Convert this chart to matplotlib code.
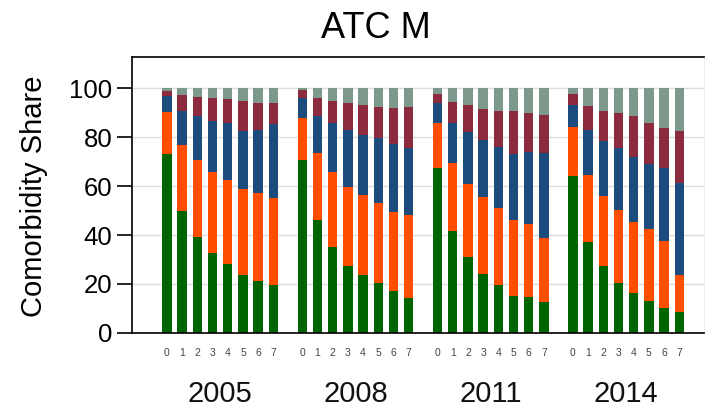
import numpy as np
import matplotlib.pyplot as plt

plt.rcParams['font.family'] = ['Liberation Sans', 'DejaVu Sans']

years = ["2005", "2008", "2011", "2014"]
levels = ["0", "1", "2", "3", "4", "5", "6", "7"]

# cumulative tops of each stack segment, per year (bars 0..7)
green = {
    "2005": [73, 50, 39, 32.5, 28, 23.7, 21.2, 19.4],
    "2008": [70.6, 46, 35.2, 27.5, 23.7, 20.3, 17.3, 14.2],
    "2011": [67.2, 41.8, 31.2, 24.1, 19.7, 15.2, 14.8, 12.8],
    "2014": [64.1, 37.3, 27.3, 20.5, 16.5, 13.2, 10.1, 8.4],
}
orange = {
    "2005": [90.3, 76.7, 70.6, 65.8, 62.4, 59, 57, 55],
    "2008": [88, 73.6, 65.8, 59.7, 56.3, 53.2, 49.5, 48.2],
    "2011": [85.8, 69.3, 60.8, 55.6, 50.9, 46.1, 44.5, 38.6],
    "2014": [84.2, 64.5, 55.9, 50.2, 45.4, 42.3, 37.7, 23.7],
}
blue = {
    "2005": [96.7, 90.7, 88.6, 86.7, 85.8, 82.6, 82.9, 85.2],
    "2008": [95.8, 88.6, 85.8, 82.9, 80.8, 79.5, 77.4, 75.4],
    "2011": [94, 85.8, 82.2, 79, 76, 73.3, 74, 73.6],
    "2014": [93.1, 82.9, 78.5, 75.4, 71.7, 69, 67.2, 61.3],
}
maroon = {
    "2005": [99, 97.1, 96.5, 95.8, 95.4, 94.8, 94, 94],
    "2008": [99.2, 95.8, 94.8, 94, 93.1, 92.4, 92.1, 92.4],
    "2011": [97.8, 94.4, 93.1, 91.7, 90.7, 90.7, 89.9, 89],
    "2014": [97.6, 92.7, 90.7, 89.9, 88.6, 85.8, 83.9, 82.6],
}
total = 100

colors = ["#006400", "#ff4e00", "#1c4c7e", "#8c2a3e", "#7c998c"]

fig = plt.figure(figsize=(7.12, 4.08), dpi=100)
ax = fig.add_axes([0.185, 0.184, 0.804, 0.676])

step = 8.9
width = 0.62
xs_all = []
for g, yr in enumerate(years):
    x = g * step + np.arange(len(levels))
    xs_all.extend(x)
    tops = [np.array(green[yr]), np.array(orange[yr]), np.array(blue[yr]),
            np.array(maroon[yr]), np.full(len(levels), total)]
    bottom = np.zeros(len(levels))
    for top, c in zip(tops, colors):
        ax.bar(x, top - bottom, width, bottom=bottom, color=c, zorder=2)
        bottom = top
    ax.text(x.mean(), -0.252, yr, transform=ax.get_xaxis_transform(),
            ha="center", va="baseline", fontsize=21, color="#111111")

ax.set_xticks(xs_all)
ax.set_xticklabels(levels * len(years), fontsize=7.5, color="#444444")
ax.tick_params(axis="x", length=0, pad=11)

ax.set_xlim(-2.32, 3 * step + 7 + 1.64)
ax.set_ylim(0, 112.7)
ax.set_yticks([0, 20, 40, 60, 80, 100])
ax.tick_params(axis="y", labelsize=18.5, length=11, width=1.2, pad=3)
ax.yaxis.grid(True, color="#dddddd", linewidth=1, zorder=0)
ax.set_ylabel("Comorbidity Share", fontsize=21)
ax.yaxis.set_label_coords(-0.147, 0.494)

for s in ["left", "bottom", "top"]:
    ax.spines[s].set_linewidth(1.2)
ax.spines["right"].set_color("#eeeeee")

fig.text(376 / 712, 1 - 29 / 408, "ATC M", ha="center", va="center", fontsize=26)

fig.savefig("out.png", dpi=100)
